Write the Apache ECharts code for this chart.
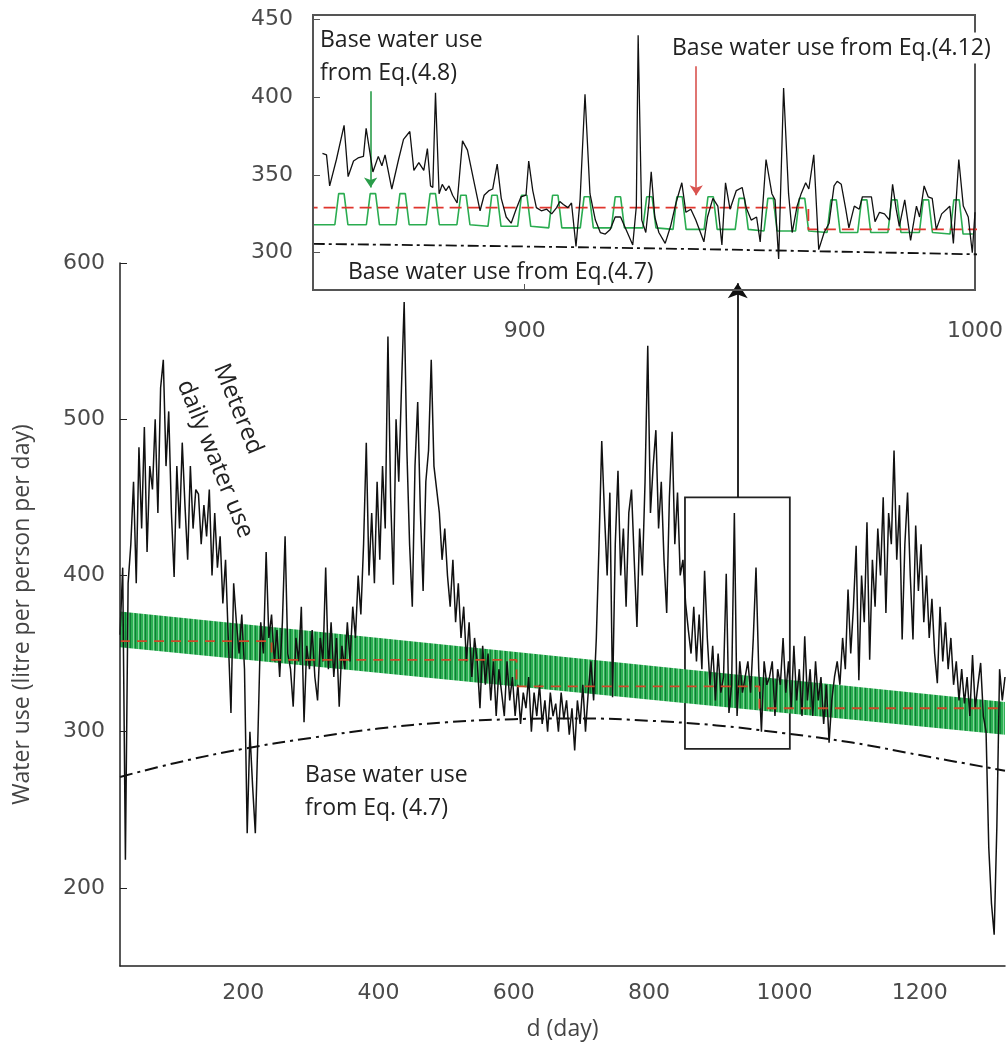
<!DOCTYPE html>
<html>
<head>
<meta charset="utf-8">
<script src="https://cdn.jsdelivr.net/npm/echarts@6/dist/echarts.min.js"></script>
<style>
  html, body { margin: 0; padding: 0; background: #fff; }
  #main { width: 1008px; height: 1055px; }
</style>
</head>
<body>
<div id="main"></div>
<script>
// metered daily water use, read every 4 days starting at day 18
var meterStart = 18;
var meterStep = 4;
var meterUse = [
  362, 405, 218, 395, 420, 460, 395, 482, 430, 495,
  415, 470, 455, 500, 440, 520, 538, 470, 505, 440,
  399, 470, 430, 485, 445, 410, 470, 430, 455, 452,
  420, 445, 425, 455, 400, 440, 405, 425, 382, 410,
  360, 312, 395, 370, 350, 375, 340, 235, 300, 265,
  235, 300, 370, 350, 415, 360, 375, 345, 365, 335,
  370, 425, 350, 340, 316, 360, 345, 380, 306, 355,
  340, 365, 335, 320, 360, 345, 405, 340, 370, 335,
  360, 316, 355, 340, 370, 345, 380, 360, 400, 375,
  420, 485, 400, 440, 395, 460, 410, 470, 430, 553,
  450, 394, 500, 460, 520, 575, 480, 420, 380, 470,
  511, 440, 390, 460, 480, 538, 470, 455, 440, 410,
  430, 400, 380, 410, 370, 395, 360, 380, 345, 370,
  335, 360, 345, 315, 355, 330, 350, 320, 345, 310,
  340, 325, 310, 345, 320, 335, 310, 330, 305, 325,
  315, 335, 300, 325, 310, 330, 305, 320, 300, 325,
  310, 318, 300, 325, 308, 320, 298, 315, 288, 320,
  305, 330, 300, 325, 345, 320, 360, 420, 486, 440,
  400, 453, 322, 420, 467, 400, 430, 380, 440, 455,
  410, 367, 430, 400, 460, 547, 440, 470, 493, 430,
  460, 410, 376, 450, 492, 420, 453, 400, 410, 382,
  365, 350, 380, 345, 375, 340, 403, 360, 330, 355,
  320, 350, 325, 335, 401, 312, 330, 440, 310, 345,
  325, 335, 345, 325, 360, 405, 340, 300, 345, 330,
  335, 345, 310, 340, 330, 360, 325, 345, 315, 355,
  320, 340, 310, 361, 320, 340, 310, 345, 320, 335,
  305, 330, 293, 320, 335, 345, 330, 360, 340, 391,
  350, 380, 419, 333, 400, 370, 434, 346, 410, 380,
  430, 400, 450, 376, 440, 420, 480, 410, 445, 359,
  420, 453, 400, 359, 432, 390, 420, 370, 400, 360,
  385, 350, 331, 380, 345, 370, 340, 360, 330, 345,
  320, 340, 318, 335, 310, 349, 315, 330, 344, 310,
  300, 226, 190, 170, 240, 340, 320, 335
];

// base water use from Eq.(4.12) - stepped
var stepDays = [18, 242, 604, 963, 1326];
var stepUse = [358, 346, 329, 315, 315];

// base water use from Eq.(4.7)
var baseDays = [18, 100, 200, 300, 400, 500, 600, 700, 800, 900, 1000, 1100, 1200, 1326];
var baseUse = [271, 280, 289, 296, 302, 306, 308, 308.5, 307, 304, 299, 293, 285, 275];

// base water use from Eq.(4.8) - weekly band edges
var bandDays = [18, 1326];
var bandLow = [354, 298];
var bandHigh = [377, 319];

// inset: daily metered use, days 853 - 1000
var insetDays = [
  855.1, 856.0, 856.7, 858.2, 859.9, 860.8, 862.0, 863.0, 864.2, 864.8,
  866.3, 867.5, 868.3, 869.0, 870.5, 872.0, 873.1, 874.5, 875.4, 876.5,
  877.6, 878.4, 879.1, 879.6, 880.2, 881.0, 881.7, 882.5, 883.2, 884.0,
  885.0, 886.2, 887.3, 888.8, 890.1, 891.0, 892.1, 892.9, 893.9, 894.8,
  895.9, 897.0, 898.1, 899.2, 900.3, 900.9, 901.8, 902.6, 903.7, 904.9,
  906.0, 907.1, 907.8, 908.6, 909.6, 910.4, 911.4, 912.3, 913.4, 914.5,
  915.7, 916.8, 917.9, 919.0, 920.1, 921.3, 922.8, 924.0, 924.8, 925.2,
  926.0, 926.9, 927.6, 928.1, 928.9, 929.8, 931.2, 932.4, 933.6, 934.9,
  935.8, 936.9, 938.0, 939.8, 940.6, 941.8, 942.9, 943.8, 944.6, 945.6,
  947.0, 948.3, 949.2, 950.3, 951.5, 952.3, 953.6, 954.9, 955.6, 956.4,
  957.5, 958.6, 959.4, 960.5, 961.4, 962.4, 963.1, 964.2, 965.3, 966.5,
  967.6, 968.7, 969.4, 970.3, 971.3, 972.0, 973.2, 974.3, 975.0, 976.2,
  977.0, 977.8, 978.8, 979.9, 981.0, 981.7, 982.5, 983.2, 984.4, 985.7,
  987.0, 987.7, 988.7, 989.6, 990.5, 991.4, 992.6, 993.7, 994.4, 995.2,
  996.4, 997.4, 998.5, 999.4, 1000.0
];
var insetUse = [
  364, 363, 343, 360, 382, 349, 359, 361, 362, 380,
  352, 362, 356, 363, 341, 360, 373, 378, 353, 358,
  353, 367, 343, 342, 403, 338, 344, 340, 343, 337,
  332, 372, 366, 345, 327, 337, 340, 341, 357, 335,
  323, 319, 328, 336, 337, 359, 340, 329, 327, 328,
  325, 329, 333, 331, 329, 332, 304, 334, 402, 338,
  321, 313, 312, 315, 323, 323, 313, 305, 330, 440,
  321, 313, 332, 352, 323, 313, 306, 317, 332, 345,
  326, 328, 321, 307, 323, 335, 330, 305, 345, 328,
  340, 342, 329, 321, 323, 307, 360, 338, 334, 296,
  406, 338, 313, 330, 338, 345, 341, 363, 302, 313,
  319, 343, 346, 344, 328, 316, 330, 328, 336, 336,
  336, 320, 326, 325, 321, 344, 328, 317, 334, 308,
  330, 323, 343, 336, 335, 315, 325, 328, 330, 306,
  360, 330, 323, 300, 326
];

// inset: weekly pulses of Eq.(4.8)
var pulseDay = [859.3, 866.3, 872.9, 879.6, 886.4, 893.3, 899.9, 906.8, 913.8, 920.7, 927.7,
  934.4, 941.3, 948.2, 954.6, 961.6, 968.6, 975.4, 982.1, 989.1, 995.9];
var pulseBase = [318, 318, 318, 318, 318, 317, 317, 316, 316, 316, 316, 315, 315, 315, 314, 314, 313, 313, 313, 313, 312];
var pulsePeak = [338, 338, 338, 338, 337, 337, 337, 337, 336, 336, 336, 336, 336, 335, 335, 335, 334, 334, 334, 334, 334];

var mainXTicks = [200, 400, 600, 800, 1000, 1200];
var mainYTicks = [200, 300, 400, 500, 600];
var insetXTicks = [900, 1000];
var insetYTicks = [300, 350, 400, 450];

function pairs (xs, ys) {
  return xs.map(function (x, i) { return [x, ys[i]]; });
}
function plain (v) { return String(v); }

var meterData = meterUse.map(function (v, i) { return [meterStart + i * meterStep, v]; });

var pulseLine = [[853, pulseBase[0]]];
pulseDay.forEach(function (c, i) {
  pulseLine.push([c - 1.45, pulseBase[i]], [c - 0.6, pulsePeak[i]], [c + 0.6, pulsePeak[i]], [c + 1.45, pulseBase[i]]);
});
pulseLine.push([999.5, pulseBase[pulseBase.length - 1]]);

// striped green fill for the weekly band
var pat = document.createElement('canvas');
pat.width = 5;
pat.height = 4;
var g = pat.getContext('2d');
g.fillStyle = '#2cb153';
g.fillRect(0, 0, 5, 4);
g.fillStyle = '#117d37';
g.fillRect(0, 0, 1, 4);
g.fillStyle = '#86d59d';
g.fillRect(3, 0, 1, 4);

var txtFont = '"Open Sans", "Noto Sans", sans-serif';
var numFont = '"DejaVu Sans", sans-serif';

var dom = document.getElementById('main');
var myChart = echarts.init(dom);

var option = {
  animation: false,
  backgroundColor: '#fff',
  grid: [
    { left: 120, top: 263, width: 885, height: 703 },
    { left: 313, top: 15, width: 662, height: 275, show: true, backgroundColor: '#fff', borderColor: '#555', borderWidth: 2, z: 5 }
  ],
  xAxis: [
    {
      type: 'value', gridIndex: 0, min: 18, max: 1326, z: 8,
      axisLine: { show: true, lineStyle: { color: '#222', width: 1.5 } },
      axisTick: { show: false },
      splitLine: { show: false },
      axisLabel: { customValues: mainXTicks, formatter: plain, fontSize: 22, color: '#4a4a4a', margin: 16, fontFamily: numFont },
      name: 'd (day)', nameLocation: 'middle', nameGap: 52,
      nameTextStyle: { fontSize: 23, color: '#444', fontFamily: txtFont }
    },
    {
      type: 'value', gridIndex: 1, min: 853, max: 1000, z: 8,
      axisLine: { show: true, lineStyle: { color: '#555', width: 2 } },
      axisTick: { show: true, inside: true, length: 6, customValues: [900], lineStyle: { color: '#555' } },
      splitLine: { show: false },
      axisLabel: { customValues: insetXTicks, formatter: plain, fontSize: 22, color: '#4a4a4a', margin: 30, fontFamily: numFont }
    }
  ],
  yAxis: [
    {
      type: 'value', gridIndex: 0, min: 150, max: 600, z: 8,
      axisLine: { show: true, lineStyle: { color: '#222', width: 1.5 } },
      axisTick: { show: true, inside: true, length: 7, customValues: mainYTicks, lineStyle: { color: '#222' } },
      splitLine: { show: false },
      axisLabel: { customValues: mainYTicks, fontSize: 22, color: '#4a4a4a', margin: 15, fontFamily: numFont },
      name: 'Water use (litre per person per day)', nameLocation: 'middle', nameGap: 86, nameRotate: 90,
      nameTextStyle: { fontSize: 23, color: '#444', fontFamily: txtFont }
    },
    {
      type: 'value', gridIndex: 1, min: 276, max: 453, z: 8,
      axisLine: { show: true, lineStyle: { color: '#555', width: 2 } },
      axisTick: { show: true, inside: true, length: 7, customValues: insetYTicks, lineStyle: { color: '#555' } },
      splitLine: { show: false },
      axisLabel: { customValues: insetYTicks, fontSize: 22, color: '#4a4a4a', margin: 20, fontFamily: numFont }
    }
  ],
  series: [
    // main chart: weekly band of Eq.(4.8), drawn between its two edges
    {
      name: 'Eq.(4.8)', type: 'custom', xAxisIndex: 0, yAxisIndex: 0, silent: true, z: 2,
      data: [[bandDays[0], bandLow[0]]],
      renderItem: function (params, api) {
        var pts = [];
        bandDays.forEach(function (d, i) { pts.push(api.coord([d, bandLow[i]])); });
        for (var i = bandDays.length - 1; i >= 0; i--) {
          pts.push(api.coord([bandDays[i], bandHigh[i]]));
        }
        return { type: 'polygon', shape: { points: pts }, style: { fill: { image: pat, repeat: 'repeat' } } };
      }
    },
    {
      name: 'Metered', type: 'line', xAxisIndex: 0, yAxisIndex: 0,
      data: meterData, symbol: 'none', lineStyle: { color: '#111', width: 1.5 }, z: 3,
      markArea: {
        silent: true,
        itemStyle: { color: 'rgba(0,0,0,0)', borderColor: '#222', borderWidth: 1.8 },
        data: [[{ coord: [853, 289] }, { coord: [1008, 450] }]]
      },
      markLine: {
        silent: true, symbol: ['none', 'arrow'], symbolSize: 15,
        label: { show: false },
        lineStyle: { type: 'solid', color: '#111', width: 1.8 },
        data: [[{ coord: [931, 450] }, { coord: [931, 587] }]]
      }
    },
    {
      name: 'Eq.(4.12)', type: 'line', xAxisIndex: 0, yAxisIndex: 0, step: 'end',
      data: pairs(stepDays, stepUse), symbol: 'none',
      lineStyle: { color: '#cc4a28', width: 1.8, type: [10, 7] }, z: 4
    },
    {
      name: 'Eq.(4.7)', type: 'line', xAxisIndex: 0, yAxisIndex: 0, smooth: 0.4,
      data: pairs(baseDays, baseUse), symbol: 'none',
      lineStyle: { color: '#111', width: 2, type: [13, 5, 3, 5] }, z: 4
    },
    // inset
    {
      name: 'inset Eq.(4.7)', type: 'line', xAxisIndex: 1, yAxisIndex: 1, smooth: 0.4,
      data: pairs(baseDays, baseUse), symbol: 'none',
      lineStyle: { color: '#111', width: 1.8, type: [11, 4, 3, 4] }, z: 6
    },
    {
      name: 'inset Eq.(4.8)', type: 'line', xAxisIndex: 1, yAxisIndex: 1,
      data: pulseLine, symbol: 'none', lineStyle: { color: '#2aac50', width: 1.6 }, z: 6
    },
    {
      name: 'inset Eq.(4.12)', type: 'line', xAxisIndex: 1, yAxisIndex: 1, step: 'end',
      data: pairs(stepDays, stepUse), symbol: 'none',
      lineStyle: { color: '#e0352d', width: 1.8, type: [12, 6] }, z: 7
    },
    {
      name: 'inset metered', type: 'line', xAxisIndex: 1, yAxisIndex: 1,
      data: pairs(insetDays, insetUse), symbol: 'none', lineStyle: { color: '#111', width: 1.3 }, z: 7,
      markLine: {
        silent: true, symbol: ['none', 'arrow'], symbolSize: 10,
        label: { show: false },
        data: [
          [{ coord: [865.8, 404], lineStyle: { type: 'solid', color: '#2a9d4a', width: 1.6 } }, { coord: [865.8, 342] }],
          [{ coord: [938.1, 420], lineStyle: { type: 'solid', color: '#d9534f', width: 1.6 } }, { coord: [938.1, 337] }]
        ]
      }
    }
  ],
  graphic: [
    { type: 'text', x: 238, y: 409, rotation: -68 * Math.PI / 180, z: 100,
      style: { text: 'Metered', fontSize: 24, fontFamily: txtFont, fill: '#222', align: 'center', verticalAlign: 'middle' } },
    { type: 'text', x: 215, y: 459, rotation: -68 * Math.PI / 180, z: 100,
      style: { text: 'daily water use', fontSize: 24, fontFamily: txtFont, fill: '#222', align: 'center', verticalAlign: 'middle' } },
    { type: 'text', x: 305, y: 775, z: 100,
      style: { text: 'Base water use', fontSize: 23, fontFamily: txtFont, fill: '#222', verticalAlign: 'middle' } },
    { type: 'text', x: 305, y: 808, z: 100,
      style: { text: 'from Eq. (4.7)', fontSize: 23, fontFamily: txtFont, fill: '#222', verticalAlign: 'middle' } },
    { type: 'text', x: 320, y: 40, z: 100,
      style: { text: 'Base water use', fontSize: 23, fontFamily: txtFont, fill: '#222', verticalAlign: 'middle' } },
    { type: 'text', x: 320, y: 73, z: 100,
      style: { text: 'from Eq.(4.8)', fontSize: 23, fontFamily: txtFont, fill: '#222', verticalAlign: 'middle' } },
    { type: 'text', x: 670, y: 48, z: 100,
      style: { text: 'Base water use from Eq.(4.12)', fontSize: 23, fontFamily: txtFont, fill: '#222', verticalAlign: 'middle',
        backgroundColor: '#fff', padding: [4, 2, 4, 2] } },
    { type: 'text', x: 348, y: 272, z: 100,
      style: { text: 'Base water use from Eq.(4.7)', fontSize: 23, fontFamily: txtFont, fill: '#222', verticalAlign: 'middle' } }
  ]
};

myChart.setOption(option);
</script>
</body>
</html>
